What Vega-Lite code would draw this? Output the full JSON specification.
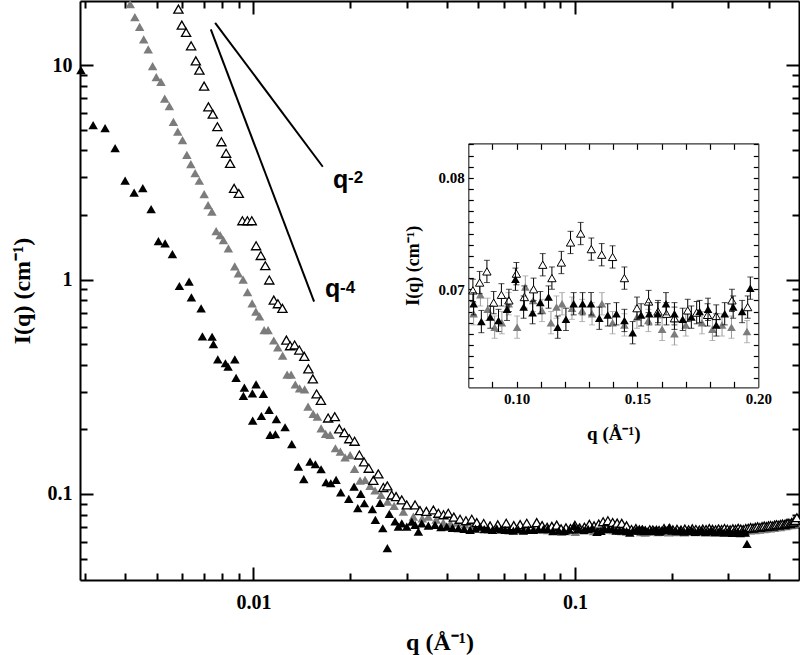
{
  "$schema": "https://vega.github.io/schema/vega-lite/v6.json",
  "width": 719,
  "height": 579,
  "autosize": {"type": "none"},
  "padding": {"left": 80, "top": 1, "right": 1, "bottom": 75},
  "background": "white",
  "datasets": {
    "pts": [
      {"s":"A","q":0.00291,"I":9.48},{"s":"A","q":0.003175,"I":5.25},{"s":"A","q":0.003459,"I":5.08},{"s":"A","q":0.003716,"I":4.10},{"s":"A","q":0.003992,"I":2.89},{"s":"A","q":0.004258,"I":2.54},{"s":"A","q":0.004531,"I":2.67},{"s":"A","q":0.004809,"I":2.13},{"s":"A","q":0.005066,"I":1.51},{"s":"A","q":0.005315,"I":1.475},{"s":"A","q":0.0056,"I":1.315},{"s":"A","q":0.005888,"I":0.933},{"s":"A","q":0.006311,"I":0.977},{"s":"A","q":0.006416,"I":0.826},{"s":"A","q":0.006878,"I":0.734},{"s":"A","q":0.006942,"I":0.5435},{"s":"A","q":0.007441,"I":0.541},{"s":"A","q":0.007511,"I":0.5},{"s":"A","q":0.007751,"I":0.4245},{"s":"A","q":0.008184,"I":0.407},{"s":"A","q":0.008344,"I":0.392},{"s":"A","q":0.008754,"I":0.4245},{"s":"A","q":0.008835,"I":0.348},{"s":"A","q":0.009376,"I":0.313},{"s":"A","q":0.009309,"I":0.2864},{"s":"A","q":0.009929,"I":0.2948},{"s":"A","q":0.010195,"I":0.3246},{"s":"A","q":0.010742,"I":0.2926},{"s":"A","q":0.00995,"I":0.2197},{"s":"A","q":0.010589,"I":0.231},{"s":"A","q":0.011189,"I":0.2464},{"s":"A","q":0.01179,"I":0.2231},{"s":"A","q":0.01127,"I":0.1885},{"s":"A","q":0.011706,"I":0.1899},{"s":"A","q":0.012547,"I":0.2047},{"s":"A","q":0.013164,"I":0.1706},{"s":"A","q":0.0138,"I":0.1341},{"s":"A","q":0.014344,"I":0.1172},{"s":"A","q":0.015005,"I":0.1414},{"s":"A","q":0.015585,"I":0.1376},{"s":"A","q":0.016235,"I":0.1304},{"s":"A","q":0.016826,"I":0.1134},{"s":"A","q":0.017402,"I":0.1122},{"s":"A","q":0.018075,"I":0.1162},{"s":"A","q":0.018693,"I":0.1018},{"s":"A","q":0.019794,"I":0.0948},{"s":"A","q":0.02056,"I":0.1082},{"s":"A","q":0.021112,"I":0.0858},{"s":"A","q":0.021569,"I":0.1},{"s":"A","q":0.022133,"I":0.0905},{"s":"A","q":0.023438,"I":0.0849},{"s":"A","q":0.023946,"I":0.0757},{"s":"A","q":0.025249,"I":0.0692},{"s":"A","q":0.024766,"I":0.0908},{"s":"A","q":0.02647,"I":0.0807},{"s":"A","q":0.026094,"I":0.0559},{"s":"A","q":0.027572,"I":0.0745},
      {"s":"A","q":0.02823,"I":0.0704},{"s":"A","q":0.02893,"I":0.073},{"s":"A","q":0.02998,"I":0.0704},{"s":"A","q":0.03108,"I":0.0743},{"s":"A","q":0.03182,"I":0.0717},{"s":"A","q":0.03258,"I":0.0667},{"s":"A","q":0.03338,"I":0.073},{"s":"A","q":0.035,"I":0.0712},{"s":"A","q":0.03671,"I":0.0717},{"s":"A","q":0.0383,"I":0.07},{"s":"A","q":0.03992,"I":0.0704},{"s":"A","q":0.0416,"I":0.0695},{"s":"A","q":0.04338,"I":0.0692},{"s":"A","q":0.0452,"I":0.0688},{"s":"A","q":0.04717,"I":0.068},{"s":"A","q":0.049,"I":0.069},{"s":"A","q":0.05066,"I":0.0704},{"s":"A","q":0.0522,"I":0.0686},{"s":"A","q":0.05376,"I":0.0685},{"s":"A","q":0.0554,"I":0.068},{"s":"A","q":0.0571,"I":0.0692},{"s":"A","q":0.0588,"I":0.0684},{"s":"A","q":0.0606,"I":0.068},{"s":"A","q":0.0624,"I":0.0678},{"s":"A","q":0.0643,"I":0.0675},{"s":"A","q":0.0666,"I":0.0683},{"s":"A","q":0.06906,"I":0.0675},{"s":"A","q":0.0716,"I":0.068},{"s":"A","q":0.0742,"I":0.068},{"s":"A","q":0.077,"I":0.0685},{"s":"A","q":0.0797,"I":0.0685},
      {"s":"A","q":0.0822,"I":0.0687,"e":0.001},{"s":"A","q":0.0854,"I":0.0671,"e":0.001},{"s":"A","q":0.0891,"I":0.0675,"e":0.001},{"s":"A","q":0.0925,"I":0.0672,"e":0.001},{"s":"A","q":0.096,"I":0.0682,"e":0.001},{"s":"A","q":0.0995,"I":0.0709,"e":0.001},{"s":"A","q":0.1029,"I":0.0684,"e":0.001},{"s":"A","q":0.1066,"I":0.0679,"e":0.001},{"s":"A","q":0.1098,"I":0.0688,"e":0.001},{"s":"A","q":0.1132,"I":0.0693,"e":0.001},{"s":"A","q":0.117,"I":0.0666,"e":0.001},{"s":"A","q":0.1204,"I":0.0673,"e":0.001},{"s":"A","q":0.1236,"I":0.0687,"e":0.001},{"s":"A","q":0.1273,"I":0.0687,"e":0.001},{"s":"A","q":0.1308,"I":0.0687,"e":0.001},{"s":"A","q":0.1342,"I":0.0674,"e":0.001},{"s":"A","q":0.1377,"I":0.0677,"e":0.001},{"s":"A","q":0.1413,"I":0.0678,"e":0.001},{"s":"A","q":0.1446,"I":0.0672,"e":0.001},{"s":"A","q":0.148,"I":0.0661,"e":0.001},{"s":"A","q":0.1515,"I":0.0677,"e":0.001},{"s":"A","q":0.1549,"I":0.0678,"e":0.001},{"s":"A","q":0.1584,"I":0.0678,"e":0.001},{"s":"A","q":0.1618,"I":0.0687,"e":0.001},{"s":"A","q":0.1653,"I":0.0678,"e":0.001},{"s":"A","q":0.1687,"I":0.0673,"e":0.001},{"s":"A","q":0.1723,"I":0.0675,"e":0.001},{"s":"A","q":0.1757,"I":0.068,"e":0.001},{"s":"A","q":0.1792,"I":0.0682,"e":0.001},{"s":"A","q":0.1826,"I":0.0668,"e":0.001},{"s":"A","q":0.1861,"I":0.0678,"e":0.001},{"s":"A","q":0.1896,"I":0.0684,"e":0.001},{"s":"A","q":0.1933,"I":0.068,"e":0.001},{"s":"A","q":0.1967,"I":0.0701,"e":0.001},
      {"s":"A","q":0.2003,"I":0.0676},{"s":"A","q":0.2065,"I":0.067},{"s":"A","q":0.2125,"I":0.0678},{"s":"A","q":0.2185,"I":0.0668},{"s":"A","q":0.2245,"I":0.0673},{"s":"A","q":0.2305,"I":0.0679},{"s":"A","q":0.2365,"I":0.0666},{"s":"A","q":0.2425,"I":0.0671},{"s":"A","q":0.2485,"I":0.0675},{"s":"A","q":0.2545,"I":0.0664},{"s":"A","q":0.2605,"I":0.067},{"s":"A","q":0.2665,"I":0.0673},{"s":"A","q":0.2725,"I":0.0662},{"s":"A","q":0.2785,"I":0.0668},{"s":"A","q":0.2845,"I":0.0671},{"s":"A","q":0.2905,"I":0.066},{"s":"A","q":0.2965,"I":0.0666},{"s":"A","q":0.3025,"I":0.0669},{"s":"A","q":0.3085,"I":0.0659},{"s":"A","q":0.3145,"I":0.0665},{"s":"A","q":0.3205,"I":0.0668},{"s":"A","q":0.3265,"I":0.0657},{"s":"A","q":0.3325,"I":0.0664},{"s":"A","q":0.3385,"I":0.0661},{"s":"A","q":0.3425,"I":0.0585},

      {"s":"B","q":0.00414,"I":19.25},{"s":"B","q":0.00428,"I":16.74},{"s":"B","q":0.00443,"I":15.08},{"s":"B","q":0.00456,"I":13.18},{"s":"B","q":0.00471,"I":11.84},{"s":"B","q":0.00486,"I":9.89},{"s":"B","q":0.00499,"I":8.79},{"s":"B","q":0.00516,"I":8.36},{"s":"B","q":0.0053,"I":6.97},{"s":"B","q":0.00548,"I":6.44},{"s":"B","q":0.00564,"I":5.44},{"s":"B","q":0.00582,"I":4.89},{"s":"B","q":0.00602,"I":4.47},{"s":"B","q":0.00621,"I":3.81},{"s":"B","q":0.00639,"I":3.455},{"s":"B","q":0.00659,"I":3.137},{"s":"B","q":0.00679,"I":2.888},{"s":"B","q":0.00703,"I":2.504},{"s":"B","q":0.00723,"I":2.225},{"s":"B","q":0.00743,"I":2.071},{"s":"B","q":0.00766,"I":1.683},{"s":"B","q":0.00788,"I":1.612},{"s":"B","q":0.00807,"I":1.528},{"s":"B","q":0.00836,"I":1.398},{"s":"B","q":0.00875,"I":1.152},{"s":"B","q":0.00898,"I":1.069},{"s":"B","q":0.00929,"I":0.998},{"s":"B","q":0.00959,"I":0.874},{"s":"B","q":0.00991,"I":0.774},{"s":"B","q":0.01018,"I":0.708},{"s":"B","q":0.01045,"I":0.674},{"s":"B","q":0.0108,"I":0.581},{"s":"B","q":0.01111,"I":0.581},{"s":"B","q":0.01157,"I":0.5195},{"s":"B","q":0.01191,"I":0.483},{"s":"B","q":0.01233,"I":0.442},{"s":"B","q":0.01273,"I":0.36},{"s":"B","q":0.0131,"I":0.36},{"s":"B","q":0.0135,"I":0.324},{"s":"B","q":0.01392,"I":0.311},{"s":"B","q":0.01443,"I":0.3077},{"s":"B","q":0.01479,"I":0.2553},{"s":"B","q":0.01534,"I":0.2361},{"s":"B","q":0.01581,"I":0.2293},{"s":"B","q":0.01624,"I":0.2024},{"s":"B","q":0.01677,"I":0.1905},{"s":"B","q":0.01732,"I":0.1885},{"s":"B","q":0.01799,"I":0.1634},{"s":"B","q":0.01864,"I":0.1575},{"s":"B","q":0.01928,"I":0.148},{"s":"B","q":0.01999,"I":0.1519},{"s":"B","q":0.02063,"I":0.1308},{"s":"B","q":0.02146,"I":0.1153},{"s":"B","q":0.02224,"I":0.1162},{"s":"B","q":0.02305,"I":0.109},{"s":"B","q":0.02389,"I":0.1038},{"s":"B","q":0.02494,"I":0.0989},{"s":"B","q":0.02613,"I":0.0922},{"s":"B","q":0.02738,"I":0.088},{"s":"B","q":0.02926,"I":0.0827},{"s":"B","q":0.03143,"I":0.0784},{"s":"B","q":0.0335,"I":0.077},{"s":"B","q":0.03499,"I":0.0784},{"s":"B","q":0.037,"I":0.076},{"s":"B","q":0.03894,"I":0.0735},{"s":"B","q":0.041,"I":0.073},{"s":"B","q":0.04288,"I":0.0735},{"s":"B","q":0.0455,"I":0.0722},{"s":"B","q":0.0483,"I":0.0717},{"s":"B","q":0.0513,"I":0.0705},{"s":"B","q":0.05442,"I":0.0717},{"s":"B","q":0.0575,"I":0.07},{"s":"B","q":0.0605,"I":0.0698},{"s":"B","q":0.064,"I":0.07},{"s":"B","q":0.0675,"I":0.069},{"s":"B","q":0.071,"I":0.0688},{"s":"B","q":0.0745,"I":0.069},{"s":"B","q":0.078,"I":0.0685},
      {"s":"B","q":0.0822,"I":0.0678,"e":0.001},{"s":"B","q":0.085,"I":0.0695,"e":0.001},{"s":"B","q":0.088,"I":0.0682,"e":0.001},{"s":"B","q":0.0909,"I":0.0666,"e":0.001},{"s":"B","q":0.0939,"I":0.067,"e":0.001},{"s":"B","q":0.0967,"I":0.0687,"e":0.001},{"s":"B","q":0.1002,"I":0.0666,"e":0.001},{"s":"B","q":0.1036,"I":0.0702,"e":0.001},{"s":"B","q":0.1068,"I":0.069,"e":0.001},{"s":"B","q":0.1105,"I":0.0681,"e":0.001},{"s":"B","q":0.1142,"I":0.067,"e":0.001},{"s":"B","q":0.1165,"I":0.0684,"e":0.001},{"s":"B","q":0.1188,"I":0.0687,"e":0.001},{"s":"B","q":0.1229,"I":0.0683,"e":0.001},{"s":"B","q":0.1271,"I":0.0681,"e":0.001},{"s":"B","q":0.1312,"I":0.0678,"e":0.001},{"s":"B","q":0.1353,"I":0.0687,"e":0.001},{"s":"B","q":0.1397,"I":0.067,"e":0.001},{"s":"B","q":0.1446,"I":0.0668,"e":0.001},{"s":"B","q":0.1498,"I":0.0675,"e":0.001},{"s":"B","q":0.1545,"I":0.0672,"e":0.001},{"s":"B","q":0.1602,"I":0.0664,"e":0.001},{"s":"B","q":0.1653,"I":0.066,"e":0.001},{"s":"B","q":0.17,"I":0.0668,"e":0.001},{"s":"B","q":0.1767,"I":0.067,"e":0.001},{"s":"B","q":0.181,"I":0.0664,"e":0.001},{"s":"B","q":0.185,"I":0.0668,"e":0.001},{"s":"B","q":0.1889,"I":0.0666,"e":0.001},{"s":"B","q":0.1953,"I":0.0662,"e":0.001},
      {"s":"B","q":0.201,"I":0.0668},{"s":"B","q":0.207,"I":0.0664},{"s":"B","q":0.213,"I":0.067},{"s":"B","q":0.219,"I":0.0662},{"s":"B","q":0.225,"I":0.0667},{"s":"B","q":0.231,"I":0.0671},{"s":"B","q":0.237,"I":0.0663},{"s":"B","q":0.243,"I":0.0668},{"s":"B","q":0.249,"I":0.0672},{"s":"B","q":0.255,"I":0.0664},{"s":"B","q":0.261,"I":0.0669},{"s":"B","q":0.267,"I":0.0666},{"s":"B","q":0.273,"I":0.0671},{"s":"B","q":0.279,"I":0.0665},{"s":"B","q":0.285,"I":0.0668},{"s":"B","q":0.291,"I":0.0663},{"s":"B","q":0.297,"I":0.0667},{"s":"B","q":0.303,"I":0.067},{"s":"B","q":0.309,"I":0.0664},{"s":"B","q":0.315,"I":0.0668},{"s":"B","q":0.321,"I":0.0671},{"s":"B","q":0.327,"I":0.0666},{"s":"B","q":0.333,"I":0.0669},{"s":"B","q":0.339,"I":0.0675},{"s":"B","q":0.345,"I":0.068},{"s":"B","q":0.351,"I":0.0676},{"s":"B","q":0.357,"I":0.0682},{"s":"B","q":0.363,"I":0.0679},{"s":"B","q":0.369,"I":0.0685},{"s":"B","q":0.375,"I":0.0682},{"s":"B","q":0.381,"I":0.0688},{"s":"B","q":0.387,"I":0.0685},{"s":"B","q":0.393,"I":0.069},{"s":"B","q":0.399,"I":0.0694},{"s":"B","q":0.405,"I":0.0691},{"s":"B","q":0.411,"I":0.0697},{"s":"B","q":0.417,"I":0.0694},{"s":"B","q":0.423,"I":0.07},{"s":"B","q":0.429,"I":0.0703},{"s":"B","q":0.435,"I":0.07},{"s":"B","q":0.441,"I":0.0707},{"s":"B","q":0.447,"I":0.071},{"s":"B","q":0.453,"I":0.0707},{"s":"B","q":0.459,"I":0.0714},{"s":"B","q":0.465,"I":0.0718},{"s":"B","q":0.471,"I":0.0715},{"s":"B","q":0.477,"I":0.0722},{"s":"B","q":0.483,"I":0.0728},{"s":"B","q":0.489,"I":0.0733},{"s":"B","q":0.495,"I":0.0738},

      {"s":"C","q":0.005846,"I":18.24},{"s":"C","q":0.00599,"I":15.36},{"s":"C","q":0.006177,"I":14.2},{"s":"C","q":0.006402,"I":12.3},{"s":"C","q":0.006622,"I":10.47},{"s":"C","q":0.006794,"I":9.48},{"s":"C","q":0.007027,"I":7.98},{"s":"C","q":0.007247,"I":6.39},{"s":"C","q":0.007478,"I":5.91},{"s":"C","q":0.007728,"I":5.16},{"s":"C","q":0.007953,"I":4.39},{"s":"C","q":0.008225,"I":3.88},{"s":"C","q":0.008464,"I":3.48},{"s":"C","q":0.00871,"I":2.66},{"s":"C","q":0.009008,"I":2.52},{"s":"C","q":0.009243,"I":1.88},{"s":"C","q":0.00958,"I":1.88},{"s":"C","q":0.009886,"I":1.88},{"s":"C","q":0.010195,"I":1.437},{"s":"C","q":0.010544,"I":1.294},{"s":"C","q":0.010889,"I":1.16},{"s":"C","q":0.011206,"I":0.995},{"s":"C","q":0.011571,"I":0.802},{"s":"C","q":0.011917,"I":0.771},{"s":"C","q":0.012308,"I":0.734},{"s":"C","q":0.012664,"I":0.522},{"s":"C","q":0.013006,"I":0.491},{"s":"C","q":0.013432,"I":0.495},{"s":"C","q":0.01389,"I":0.469},{"s":"C","q":0.014395,"I":0.438},{"s":"C","q":0.014824,"I":0.383},{"s":"C","q":0.015302,"I":0.344},{"s":"C","q":0.015721,"I":0.2926},{"s":"C","q":0.016212,"I":0.2734},{"s":"C","q":0.017075,"I":0.2261},{"s":"C","q":0.017908,"I":0.2293},{"s":"C","q":0.018493,"I":0.2013},{"s":"C","q":0.019184,"I":0.1931},{"s":"C","q":0.019867,"I":0.1809},{"s":"C","q":0.020634,"I":0.1761},{"s":"C","q":0.021353,"I":0.1519},{"s":"C","q":0.022085,"I":0.141},{"s":"C","q":0.022838,"I":0.1318},{"s":"C","q":0.023598,"I":0.1158},{"s":"C","q":0.024459,"I":0.124},{"s":"C","q":0.025353,"I":0.1072},{"s":"C","q":0.026094,"I":0.109},{"s":"C","q":0.026906,"I":0.0989},{"s":"C","q":0.027771,"I":0.0972},{"s":"C","q":0.028927,"I":0.0938},{"s":"C","q":0.029982,"I":0.0889},{"s":"C","q":0.031817,"I":0.0889},{"s":"C","q":0.032954,"I":0.0836},{"s":"C","q":0.0345,"I":0.083},{"s":"C","q":0.036271,"I":0.0842},{"s":"C","q":0.037598,"I":0.0813},{"s":"C","q":0.039,"I":0.08},{"s":"C","q":0.040355,"I":0.0813},{"s":"C","q":0.042,"I":0.078},{"s":"C","q":0.043907,"I":0.0762},{"s":"C","q":0.0458,"I":0.075},{"s":"C","q":0.047745,"I":0.0762},{"s":"C","q":0.049485,"I":0.0735},{"s":"C","q":0.052,"I":0.0728},{"s":"C","q":0.054424,"I":0.0709},{"s":"C","q":0.0575,"I":0.0718},{"s":"C","q":0.0611,"I":0.073},{"s":"C","q":0.0645,"I":0.0712},{"s":"C","q":0.0675,"I":0.072},{"s":"C","q":0.07078,"I":0.073},{"s":"C","q":0.076,"I":0.0735},{"s":"C","q":0.079,"I":0.0712},
      {"s":"C","q":0.0819,"I":0.0699,"e":0.001},{"s":"C","q":0.0847,"I":0.0706,"e":0.001},{"s":"C","q":0.0877,"I":0.0716,"e":0.001},{"s":"C","q":0.0905,"I":0.0688,"e":0.001},{"s":"C","q":0.0937,"I":0.0695,"e":0.001},{"s":"C","q":0.0968,"I":0.069,"e":0.001},{"s":"C","q":0.0999,"I":0.0714,"e":0.001},{"s":"C","q":0.1032,"I":0.0693,"e":0.001},{"s":"C","q":0.107,"I":0.07,"e":0.001},{"s":"C","q":0.1108,"I":0.0722,"e":0.001},{"s":"C","q":0.1146,"I":0.071,"e":0.001},{"s":"C","q":0.1185,"I":0.0724,"e":0.001},{"s":"C","q":0.1223,"I":0.0742,"e":0.001},{"s":"C","q":0.1265,"I":0.075,"e":0.001},{"s":"C","q":0.1309,"I":0.0736,"e":0.001},{"s":"C","q":0.1352,"I":0.0731,"e":0.001},{"s":"C","q":0.1397,"I":0.0729,"e":0.001},{"s":"C","q":0.1446,"I":0.071,"e":0.001},{"s":"C","q":0.1498,"I":0.0683,"e":0.001},{"s":"C","q":0.1546,"I":0.0689,"e":0.001},{"s":"C","q":0.1585,"I":0.068,"e":0.001},{"s":"C","q":0.162,"I":0.0678,"e":0.001},{"s":"C","q":0.1653,"I":0.0674,"e":0.001},{"s":"C","q":0.1708,"I":0.0681,"e":0.001},{"s":"C","q":0.1745,"I":0.0679,"e":0.001},{"s":"C","q":0.179,"I":0.0677,"e":0.001},{"s":"C","q":0.1826,"I":0.0676,"e":0.001},{"s":"C","q":0.1891,"I":0.069,"e":0.001},{"s":"C","q":0.1956,"I":0.0684,"e":0.001},
      {"s":"C","q":0.2015,"I":0.068},{"s":"C","q":0.2075,"I":0.0684},{"s":"C","q":0.2135,"I":0.0678},{"s":"C","q":0.2195,"I":0.0686},{"s":"C","q":0.2255,"I":0.0681},{"s":"C","q":0.2315,"I":0.0688},{"s":"C","q":0.2375,"I":0.0683},{"s":"C","q":0.2435,"I":0.0679},{"s":"C","q":0.2495,"I":0.0686},{"s":"C","q":0.2555,"I":0.0682},{"s":"C","q":0.2615,"I":0.0689},{"s":"C","q":0.2675,"I":0.0684},{"s":"C","q":0.2735,"I":0.068},{"s":"C","q":0.2795,"I":0.0687},{"s":"C","q":0.2855,"I":0.0683},{"s":"C","q":0.2915,"I":0.069},{"s":"C","q":0.2975,"I":0.0685},{"s":"C","q":0.3035,"I":0.0681},{"s":"C","q":0.3095,"I":0.0688},{"s":"C","q":0.3155,"I":0.0684},{"s":"C","q":0.3215,"I":0.0691},{"s":"C","q":0.3275,"I":0.0686},{"s":"C","q":0.3335,"I":0.0682},{"s":"C","q":0.3395,"I":0.0689},{"s":"C","q":0.3455,"I":0.0692},{"s":"C","q":0.3515,"I":0.0697},{"s":"C","q":0.3575,"I":0.0693},{"s":"C","q":0.3635,"I":0.0699},{"s":"C","q":0.3695,"I":0.0702},{"s":"C","q":0.3755,"I":0.0698},{"s":"C","q":0.3815,"I":0.0704},{"s":"C","q":0.3875,"I":0.0708},{"s":"C","q":0.3935,"I":0.0704},{"s":"C","q":0.3995,"I":0.071},{"s":"C","q":0.4055,"I":0.0713},{"s":"C","q":0.4115,"I":0.0709},{"s":"C","q":0.4175,"I":0.0716},{"s":"C","q":0.4235,"I":0.0719},{"s":"C","q":0.4295,"I":0.0715},{"s":"C","q":0.4355,"I":0.0721},{"s":"C","q":0.4415,"I":0.0724},{"s":"C","q":0.4475,"I":0.072},{"s":"C","q":0.4535,"I":0.0727},{"s":"C","q":0.4595,"I":0.0731},{"s":"C","q":0.4655,"I":0.0728},{"s":"C","q":0.4715,"I":0.0735},{"s":"C","q":0.4775,"I":0.074},{"s":"C","q":0.4835,"I":0.0752},{"s":"C","q":0.4895,"I":0.0775}
    ],
    "guides": [
      {"g":"q-2","q":0.007603,"I":15.75},{"g":"q-2","q":0.016434,"I":3.357},
      {"g":"q-4","q":0.007372,"I":14.67},{"g":"q-4","q":0.015442,"I":0.788}
    ],
    "notes": [
      {"k":"b","t":"q","q":0.01769,"I":2.67},
      {"k":"s","t":"-2","q":0.0197,"I":2.818},
      {"k":"b","t":"q","q":0.016707,"I":0.833},
      {"k":"s","t":"-4","q":0.0186,"I":0.865}
    ]
  },
  "resolve": {
    "scale": {"x": "independent", "y": "independent"},
    "axis": {"x": "independent", "y": "independent"}
  },
  "layer": [
    {
      "data": {"name": "pts"},
      "transform": [{"filter": "datum.s == 'B'"}],
      "mark": {"type": "point", "shape": "triangle-up", "filled": true, "size": 90, "color": "#7c7c7c", "opacity": 1},
      "encoding": {
        "x": {"field": "q", "type": "quantitative", "scale": {"type": "log", "domain": [0.00289, 0.497], "nice": false},
          "axis": {"orient": "bottom", "values": [0.01, 0.1], "tickSize": 0, "grid": false,
            "labelExpr": "datum.value == 0.01 ? '0.01' : '0.1'",
            "labelFont": "Liberation Serif", "labelFontWeight": "bold", "labelColor": "#000",
            "labelPadding": 12, "labelFontSize": 20, "domainWidth": 2, "domainColor": "#000",
            "title": "q (Å⁻¹)", "titleFont": "Liberation Serif", "titleFontWeight": "bold", "titleColor": "#000",
            "titleFontSize": 24, "titleY": 62, "titleBaseline": "middle"}},
        "y": {"field": "I", "type": "quantitative", "scale": {"type": "log", "domain": [0.0397, 19.9], "nice": false},
          "axis": {"orient": "left", "values": [0.1, 1, 10], "tickSize": 0, "grid": false,
            "labelExpr": "datum.value == 10 ? '10' : (datum.value == 1 ? '1' : '0.1')",
            "labelFont": "Liberation Serif", "labelFontWeight": "bold", "labelColor": "#000",
            "labelPadding": 8, "labelFontSize": 20, "domainWidth": 2, "domainColor": "#000",
            "title": "I(q) (cm⁻¹)", "titleFont": "Liberation Serif", "titleFontWeight": "bold", "titleColor": "#000",
            "titleFontSize": 24, "titleX": -58, "titleBaseline": "middle", "titleAngle": -90}}
      }
    },
    {
      "data": {"name": "pts"},
      "transform": [{"filter": "datum.s == 'C'"}],
      "mark": {"type": "point", "shape": "triangle-up", "size": 85, "fill": "white", "stroke": "#000", "strokeWidth": 1.3, "opacity": 1},
      "encoding": {
        "x": {"field": "q", "type": "quantitative", "scale": {"type": "log", "domain": [0.00289, 0.497], "nice": false},
          "axis": {"orient": "top", "offset": -579, "values": [0.01, 0.1], "grid": false, "labels": false, "title": null, "domain": false, "tickSize": 13, "tickWidth": 2, "tickColor": "black"}},
        "y": {"field": "I", "type": "quantitative", "scale": {"type": "log", "domain": [0.0397, 19.9], "nice": false},
          "axis": {"orient": "right", "offset": -719, "values": [0.1, 1, 10], "grid": false, "labels": false, "title": null, "domain": false, "tickSize": 13, "tickWidth": 2, "tickColor": "black"}}
      }
    },
    {
      "data": {"name": "pts"},
      "transform": [{"filter": "datum.s == 'A'"}],
      "mark": {"type": "point", "shape": "triangle-up", "filled": true, "size": 90, "color": "#000", "opacity": 1},
      "encoding": {
        "x": {"field": "q", "type": "quantitative", "scale": {"type": "log", "domain": [0.00289, 0.497], "nice": false},
          "axis": {"orient": "top", "offset": -579, "values": [0.003,0.004,0.005,0.006,0.007,0.008,0.009,0.02,0.03,0.04,0.05,0.06,0.07,0.08,0.09,0.2,0.3,0.4], "grid": false, "labels": false, "title": null, "domain": false, "tickSize": 7, "tickWidth": 2, "tickColor": "black"}},
        "y": {"field": "I", "type": "quantitative", "scale": {"type": "log", "domain": [0.0397, 19.9], "nice": false},
          "axis": {"orient": "right", "offset": -719, "values": [0.05,0.06,0.07,0.08,0.09,0.2,0.3,0.4,0.5,0.6,0.7,0.8,0.9,2,3,4,5,6,7,8,9], "grid": false, "labels": false, "title": null, "domain": false, "tickSize": 7, "tickWidth": 2, "tickColor": "black"}}
      }
    },
    {
      "data": {"name": "guides"},
      "mark": {"type": "line", "color": "#000", "strokeWidth": 2},
      "encoding": {
        "x": {"field": "q", "type": "quantitative", "scale": {"type": "log", "domain": [0.00289, 0.497], "nice": false},
          "axis": {"orient": "bottom", "offset": -579, "values": [0.01, 0.1], "grid": false, "labels": false, "title": null, "domain": true, "domainWidth": 2, "domainColor": "black", "tickSize": 13, "tickWidth": 2, "tickColor": "black"}},
        "y": {"field": "I", "type": "quantitative", "scale": {"type": "log", "domain": [0.0397, 19.9], "nice": false},
          "axis": {"orient": "left", "offset": -719, "values": [0.1, 1, 10], "grid": false, "labels": false, "title": null, "domain": true, "domainWidth": 2, "domainColor": "black", "tickSize": 13, "tickWidth": 2, "tickColor": "black"}},
        "detail": {"field": "g"}
      }
    },
    {
      "data": {"name": "notes"},
      "transform": [{"filter": "datum.k == 'b'"}],
      "mark": {"type": "text", "font": "Liberation Sans", "fontWeight": "bold", "fontSize": 25, "align": "left", "baseline": "alphabetic", "color": "#000"},
      "encoding": {
        "x": {"field": "q", "type": "quantitative", "scale": {"type": "log", "domain": [0.00289, 0.497], "nice": false},
          "axis": {"orient": "bottom", "offset": -579, "values": [0.003,0.004,0.005,0.006,0.007,0.008,0.009,0.02,0.03,0.04,0.05,0.06,0.07,0.08,0.09,0.2,0.3,0.4], "grid": false, "labels": false, "title": null, "domain": false, "tickSize": 7, "tickWidth": 2, "tickColor": "black"}},
        "y": {"field": "I", "type": "quantitative", "scale": {"type": "log", "domain": [0.0397, 19.9], "nice": false},
          "axis": {"orient": "left", "offset": -719, "values": [0.05,0.06,0.07,0.08,0.09,0.2,0.3,0.4,0.5,0.6,0.7,0.8,0.9,2,3,4,5,6,7,8,9], "grid": false, "labels": false, "title": null, "domain": false, "tickSize": 7, "tickWidth": 2, "tickColor": "black"}},
        "text": {"field": "t"}
      }
    },
    {
      "data": {"name": "notes"},
      "transform": [{"filter": "datum.k == 's'"}],
      "mark": {"type": "text", "font": "Liberation Sans", "fontWeight": "bold", "fontSize": 17, "align": "left", "baseline": "alphabetic", "color": "#000"},
      "encoding": {
        "x": {"field": "q", "type": "quantitative", "scale": {"type": "log", "domain": [0.00289, 0.497], "nice": false}, "axis": null},
        "y": {"field": "I", "type": "quantitative", "scale": {"type": "log", "domain": [0.0397, 19.9], "nice": false}, "axis": null},
        "text": {"field": "t"}
      }
    },
    {
      "data": {"name": "pts"},
      "transform": [{"filter": "datum.s == 'B' && datum.q >= 0.08 && datum.q <= 0.2"}],
      "mark": {"type": "errorbar", "ticks": {"size": 6}, "thickness": 1, "color": "#9a9a9a"},
      "encoding": {
        "x": {"field": "q", "type": "quantitative", "scale": {"domain": [0.08, 0.2], "range": [388.3, 678.3], "nice": false, "zero": false}, "axis": null},
        "y": {"field": "I", "type": "quantitative", "scale": {"domain": [0.0612, 0.0831], "range": [386.3, 142.3], "nice": false, "zero": false}, "axis": null},
        "yError": {"field": "e"}
      }
    },
    {
      "data": {"name": "pts"},
      "transform": [{"filter": "datum.s == 'B' && datum.q >= 0.08 && datum.q <= 0.2"}],
      "mark": {"type": "point", "shape": "triangle-up", "filled": true, "size": 75, "color": "#7c7c7c", "opacity": 1},
      "encoding": {
        "x": {"field": "q", "type": "quantitative", "scale": {"domain": [0.08, 0.2], "range": [388.3, 678.3], "nice": false, "zero": false},
          "axis": {"orient": "bottom", "offset": -192.7, "values": [0.1, 0.15, 0.2], "tickSize": 0, "grid": false, "labelFlush": false,
            "labelExpr": "datum.value == 0.1 ? '0.10' : (datum.value == 0.15 ? '0.15' : '0.20')",
            "labelFont": "Liberation Serif", "labelFontWeight": "bold", "labelColor": "#000",
            "labelPadding": 4, "labelFontSize": 15, "domainWidth": 1.2, "domainColor": "#333",
            "title": "q (Å⁻¹)", "titleFont": "Liberation Serif", "titleFontWeight": "bold", "titleColor": "#000",
            "titleFontSize": 19, "titleY": 46, "titleBaseline": "middle"}},
        "y": {"field": "I", "type": "quantitative", "scale": {"domain": [0.0612, 0.0831], "range": [386.3, 142.3], "nice": false, "zero": false},
          "axis": {"orient": "left", "offset": -388.3, "values": [0.07, 0.08], "tickSize": 0, "grid": false, "labelFlush": false,
            "labelExpr": "datum.value == 0.07 ? '0.07' : '0.08'",
            "labelFont": "Liberation Serif", "labelFontWeight": "bold", "labelColor": "#000",
            "labelPadding": 4, "labelFontSize": 15, "domainWidth": 1.2, "domainColor": "#333",
            "title": "I(q) (cm⁻¹)", "titleFont": "Liberation Serif", "titleFontWeight": "bold", "titleColor": "#000",
            "titleFontSize": 18, "titleX": -55, "titleBaseline": "middle", "titleAngle": -90}}
      }
    },
    {
      "data": {"name": "pts"},
      "transform": [{"filter": "datum.s == 'C' && datum.q >= 0.08 && datum.q <= 0.2"}],
      "mark": {"type": "errorbar", "ticks": {"size": 6}, "thickness": 1, "color": "#000"},
      "encoding": {
        "x": {"field": "q", "type": "quantitative", "scale": {"domain": [0.08, 0.2], "range": [388.3, 678.3], "nice": false, "zero": false}, "axis": null},
        "y": {"field": "I", "type": "quantitative", "scale": {"domain": [0.0612, 0.0831], "range": [386.3, 142.3], "nice": false, "zero": false}, "axis": null},
        "yError": {"field": "e"}
      }
    },
    {
      "data": {"name": "pts"},
      "transform": [{"filter": "datum.s == 'C' && datum.q >= 0.08 && datum.q <= 0.2"}],
      "mark": {"type": "point", "shape": "triangle-up", "size": 70, "fill": "white", "stroke": "#000", "strokeWidth": 1, "opacity": 1},
      "encoding": {
        "x": {"field": "q", "type": "quantitative", "scale": {"domain": [0.08, 0.2], "range": [388.3, 678.3], "nice": false, "zero": false},
          "axis": {"orient": "top", "offset": -386.3, "values": [0.09,0.1,0.11,0.12,0.13,0.14,0.15,0.16,0.17,0.18,0.19], "grid": false,
            "labels": false, "title": null, "domain": false, "tickSize": 6, "tickWidth": 1.2, "tickColor": "black"}},
        "y": {"field": "I", "type": "quantitative", "scale": {"domain": [0.0612, 0.0831], "range": [386.3, 142.3], "nice": false, "zero": false},
          "axis": {"orient": "right", "offset": -330.7, "values": [0.062,0.063,0.064,0.065,0.066,0.067,0.068,0.069,0.07,0.071,0.072,0.073,0.074,0.075,0.076,0.077,0.078,0.079,0.08,0.081,0.082,0.083], "grid": false,
            "labels": false, "title": null, "domain": false, "tickSize": 5, "tickWidth": 1.2, "tickColor": "black"}}
      }
    },
    {
      "data": {"name": "pts"},
      "transform": [{"filter": "datum.s == 'A' && datum.q >= 0.08 && datum.q <= 0.2"}],
      "mark": {"type": "errorbar", "ticks": {"size": 6}, "thickness": 1, "color": "#000"},
      "encoding": {
        "x": {"field": "q", "type": "quantitative", "scale": {"domain": [0.08, 0.2], "range": [388.3, 678.3], "nice": false, "zero": false}, "axis": null},
        "y": {"field": "I", "type": "quantitative", "scale": {"domain": [0.0612, 0.0831], "range": [386.3, 142.3], "nice": false, "zero": false}, "axis": null},
        "yError": {"field": "e"}
      }
    },
    {
      "data": {"name": "pts"},
      "transform": [{"filter": "datum.s == 'A' && datum.q >= 0.08 && datum.q <= 0.2"}],
      "mark": {"type": "point", "shape": "triangle-up", "filled": true, "size": 75, "color": "#000", "opacity": 1},
      "encoding": {
        "x": {"field": "q", "type": "quantitative", "scale": {"domain": [0.08, 0.2], "range": [388.3, 678.3], "nice": false, "zero": false},
          "axis": {"orient": "bottom", "offset": -436.7, "values": [0.09,0.1,0.11,0.12,0.13,0.14,0.15,0.16,0.17,0.18,0.19], "grid": false,
            "labels": false, "title": null, "domain": true, "domainWidth": 1.2, "domainColor": "#333", "tickSize": 6, "tickWidth": 1.2, "tickColor": "black"}},
        "y": {"field": "I", "type": "quantitative", "scale": {"domain": [0.0612, 0.0831], "range": [386.3, 142.3], "nice": false, "zero": false},
          "axis": {"orient": "left", "offset": -678.3, "values": [0.062,0.063,0.064,0.065,0.066,0.067,0.068,0.069,0.07,0.071,0.072,0.073,0.074,0.075,0.076,0.077,0.078,0.079,0.08,0.081,0.082,0.083], "grid": false,
            "labels": false, "title": null, "domain": true, "domainWidth": 1.2, "domainColor": "#333", "tickSize": 5, "tickWidth": 1.2, "tickColor": "black"}}
      }
    }
  ]
}
